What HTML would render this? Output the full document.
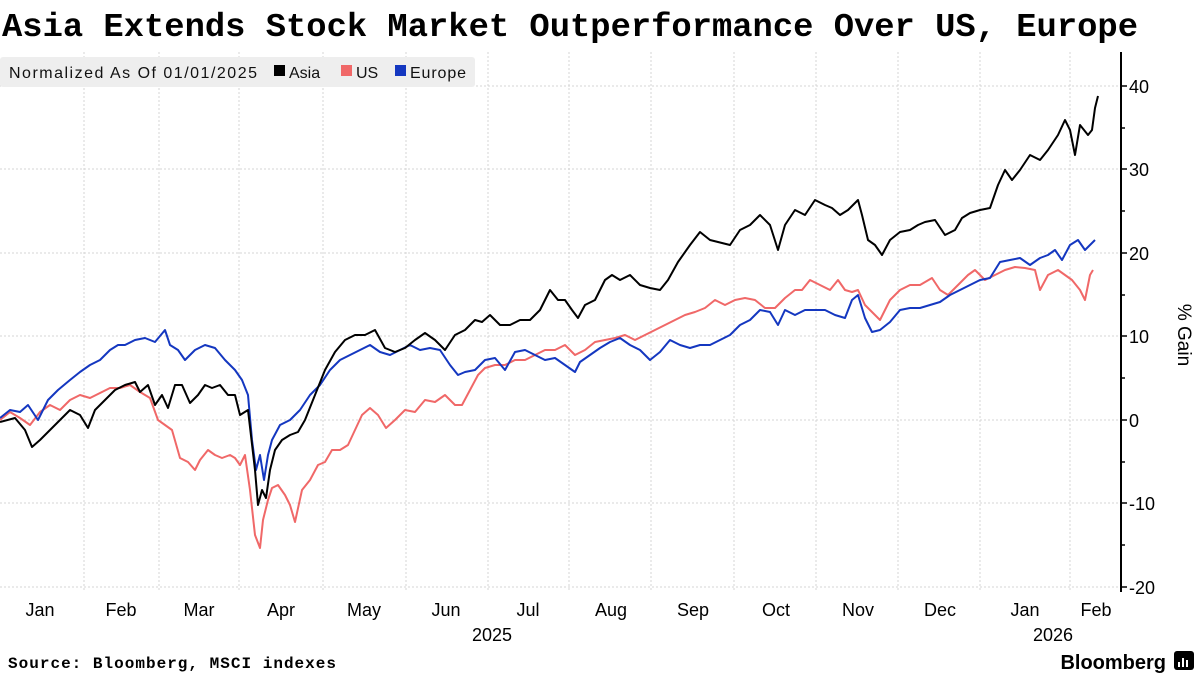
<!DOCTYPE html>
<html><head><meta charset="utf-8"><style>
body{margin:0;background:#fff;width:1200px;height:675px;overflow:hidden;font-family:"Liberation Sans",sans-serif}
</style></head><body>
<svg width="1200" height="675" xmlns="http://www.w3.org/2000/svg">
<text x="2" y="36" font-family="Liberation Mono,monospace" font-weight="bold" font-size="33.5" textLength="1136" lengthAdjust="spacingAndGlyphs" fill="#000">Asia Extends Stock Market Outperformance Over US, Europe</text>
<g stroke="#d4d4d4" stroke-dasharray="2,2" stroke-width="1">
<line x1="0" x2="1120" y1="86" y2="86"/><line x1="0" x2="1120" y1="169" y2="169"/><line x1="0" x2="1120" y1="253" y2="253"/><line x1="0" x2="1120" y1="336" y2="336"/><line x1="0" x2="1120" y1="420" y2="420"/><line x1="0" x2="1120" y1="503" y2="503"/><line x1="0" x2="1120" y1="587" y2="587"/>
<line x1="84" x2="84" y1="52" y2="592"/><line x1="159" x2="159" y1="52" y2="592"/><line x1="239" x2="239" y1="52" y2="592"/><line x1="323" x2="323" y1="52" y2="592"/><line x1="406" x2="406" y1="52" y2="592"/><line x1="488" x2="488" y1="52" y2="592"/><line x1="569" x2="569" y1="52" y2="592"/><line x1="651" x2="651" y1="52" y2="592"/><line x1="734" x2="734" y1="52" y2="592"/><line x1="816" x2="816" y1="52" y2="592"/><line x1="898" x2="898" y1="52" y2="592"/><line x1="980" x2="980" y1="52" y2="592"/><line x1="1070" x2="1070" y1="52" y2="592"/>
</g>
<rect x="0" y="57" width="475" height="30" rx="3" fill="#eee"/>
<g font-size="16" fill="#111">
<text x="9" y="78" textLength="248">Normalized As Of 01/01/2025</text>
<rect x="274" y="65" width="11" height="11" fill="#000"/><text x="289" y="78">Asia</text>
<rect x="341" y="65" width="11" height="11" fill="#f06868"/><text x="356" y="78">US</text>
<rect x="395" y="65" width="11" height="11" fill="#1437c0"/><text x="410" y="78" textLength="56">Europe</text>
</g>
<line x1="1121" x2="1121" y1="52" y2="592" stroke="#000" stroke-width="2"/>
<g stroke="#000" stroke-width="1.5">
<line x1="1121" x2="1127" y1="86" y2="86"/><line x1="1121" x2="1127" y1="169" y2="169"/><line x1="1121" x2="1127" y1="253" y2="253"/><line x1="1121" x2="1127" y1="336" y2="336"/><line x1="1121" x2="1127" y1="420" y2="420"/><line x1="1121" x2="1127" y1="503" y2="503"/><line x1="1121" x2="1127" y1="587" y2="587"/>
<line x1="1121" x2="1125" y1="128" y2="128"/><line x1="1121" x2="1125" y1="211" y2="211"/><line x1="1121" x2="1125" y1="295" y2="295"/><line x1="1121" x2="1125" y1="378" y2="378"/><line x1="1121" x2="1125" y1="462" y2="462"/><line x1="1121" x2="1125" y1="545" y2="545"/>
</g>
<g font-size="18" fill="#000">
<text x="1129" y="93">40</text><text x="1129" y="176">30</text><text x="1129" y="260">20</text><text x="1129" y="343">10</text><text x="1129" y="427">0</text><text x="1129" y="510">-10</text><text x="1129" y="594">-20</text>
</g>
<text transform="translate(1178,335) rotate(90)" text-anchor="middle" font-size="19" fill="#000">% Gain</text>
<g font-size="18" fill="#000" text-anchor="middle">
<text x="40" y="616">Jan</text><text x="121" y="616">Feb</text><text x="199" y="616">Mar</text><text x="281" y="616">Apr</text><text x="364" y="616">May</text><text x="446" y="616">Jun</text><text x="528" y="616">Jul</text><text x="611" y="616">Aug</text><text x="693" y="616">Sep</text><text x="776" y="616">Oct</text><text x="858" y="616">Nov</text><text x="940" y="616">Dec</text><text x="1025" y="616">Jan</text><text x="1096" y="616">Feb</text>
<text x="492" y="641">2025</text><text x="1053" y="641">2026</text>
</g>
<polyline fill="none" stroke="#f06868" stroke-width="2" stroke-linejoin="round" points="0,420 10,412 20,418 30,425 40,412 50,405 60,410 70,400 80,395 90,398 100,393 110,388 120,388 130,385 140,392 150,398 158,420 165,425 172,430 180,458 188,462 195,470 200,460 208,450 215,455 222,458 230,455 235,458 240,465 245,455 250,490 255,535 260,548 263,520 268,500 272,488 278,485 285,495 290,505 295,522 302,490 310,480 318,465 325,462 332,450 340,450 348,445 355,430 362,415 370,408 378,415 386,428 395,420 405,410 415,412 425,400 435,402 445,395 455,405 462,405 470,390 478,375 485,368 495,365 505,365 515,360 525,360 535,355 545,350 555,350 565,345 575,355 585,350 595,342 605,340 615,338 625,335 635,340 645,335 655,330 665,325 675,320 685,315 695,312 705,308 715,300 725,305 735,300 745,298 755,300 765,308 775,308 785,298 795,290 802,290 810,280 820,285 830,290 838,280 845,290 852,292 858,290 865,305 872,312 880,320 890,300 900,290 910,285 920,285 932,278 940,290 948,295 958,285 968,275 975,270 985,280 995,275 1005,270 1015,267 1025,268 1035,270 1040,290 1048,275 1058,270 1065,275 1072,280 1080,290 1085,300 1090,275 1093,270"/>
<polyline fill="none" stroke="#1437c0" stroke-width="2" stroke-linejoin="round" points="0,418 10,410 20,412 28,405 38,420 48,400 58,390 70,380 80,372 90,365 100,360 110,350 118,345 125,345 135,340 145,338 155,342 165,330 170,345 178,350 185,360 195,350 205,345 215,348 225,360 235,370 242,380 248,395 252,440 256,470 260,455 264,480 268,455 272,440 280,425 290,420 300,410 310,395 320,385 330,370 340,360 350,355 360,350 370,345 380,352 390,355 400,350 410,345 420,350 430,348 440,350 450,365 458,375 465,372 475,370 485,360 495,358 505,370 515,352 525,350 535,355 545,360 555,358 565,365 575,372 580,362 590,355 600,348 610,342 620,338 630,345 640,350 650,360 660,352 670,340 680,345 690,348 700,345 710,345 720,340 730,335 740,325 750,320 760,310 770,312 778,325 785,310 795,315 805,310 815,310 825,310 835,315 845,318 852,300 858,295 865,318 872,332 880,330 890,322 900,310 910,308 920,308 930,305 940,302 950,295 960,290 970,285 980,280 990,278 1000,262 1010,260 1020,258 1030,265 1040,258 1048,255 1055,250 1062,260 1070,245 1078,240 1085,250 1090,245 1095,240"/>
<polyline fill="none" stroke="#000" stroke-width="2" stroke-linejoin="round" points="0,422 15,418 25,430 32,447 40,440 50,430 60,420 70,410 80,415 88,428 95,410 105,400 115,390 125,385 135,382 140,392 148,385 155,405 162,395 168,408 175,385 182,385 190,403 198,395 205,385 212,388 220,385 228,395 235,395 240,415 248,410 255,470 258,505 262,490 266,498 270,470 275,450 282,440 290,435 298,432 305,420 315,395 325,370 335,352 345,340 355,335 365,335 375,330 385,348 395,352 405,348 415,340 425,333 435,340 445,350 455,335 465,330 475,320 482,322 490,315 500,325 510,325 520,320 530,320 540,310 550,290 558,300 565,300 572,310 578,318 585,305 595,300 605,280 612,275 620,280 630,275 640,285 650,288 660,290 668,280 678,262 690,245 700,232 710,240 722,243 730,245 740,230 750,225 760,215 770,225 778,250 785,225 795,210 805,215 815,200 825,205 832,208 840,215 848,210 858,200 862,215 868,240 875,245 882,255 890,240 900,232 910,230 918,225 925,222 935,220 945,235 955,230 962,218 970,213 980,210 990,208 998,185 1005,170 1012,180 1020,170 1030,155 1040,160 1048,150 1058,135 1065,120 1070,130 1075,155 1080,125 1088,135 1092,130 1095,108 1098,96"/>
<text x="8" y="668" font-family="Liberation Mono,monospace" font-weight="bold" font-size="16" textLength="328" fill="#000">Source: Bloomberg, MSCI indexes</text>
<text x="1166" y="669" text-anchor="end" font-weight="bold" font-size="20" fill="#000">Bloomberg</text>
<rect x="1174" y="651" width="20" height="19" rx="3" fill="#000"/>
<rect x="1178" y="662" width="2" height="5" fill="#fff"/><rect x="1182" y="658" width="2" height="9" fill="#fff"/><rect x="1186" y="660" width="2" height="7" fill="#fff"/>
</svg>
</body></html>
